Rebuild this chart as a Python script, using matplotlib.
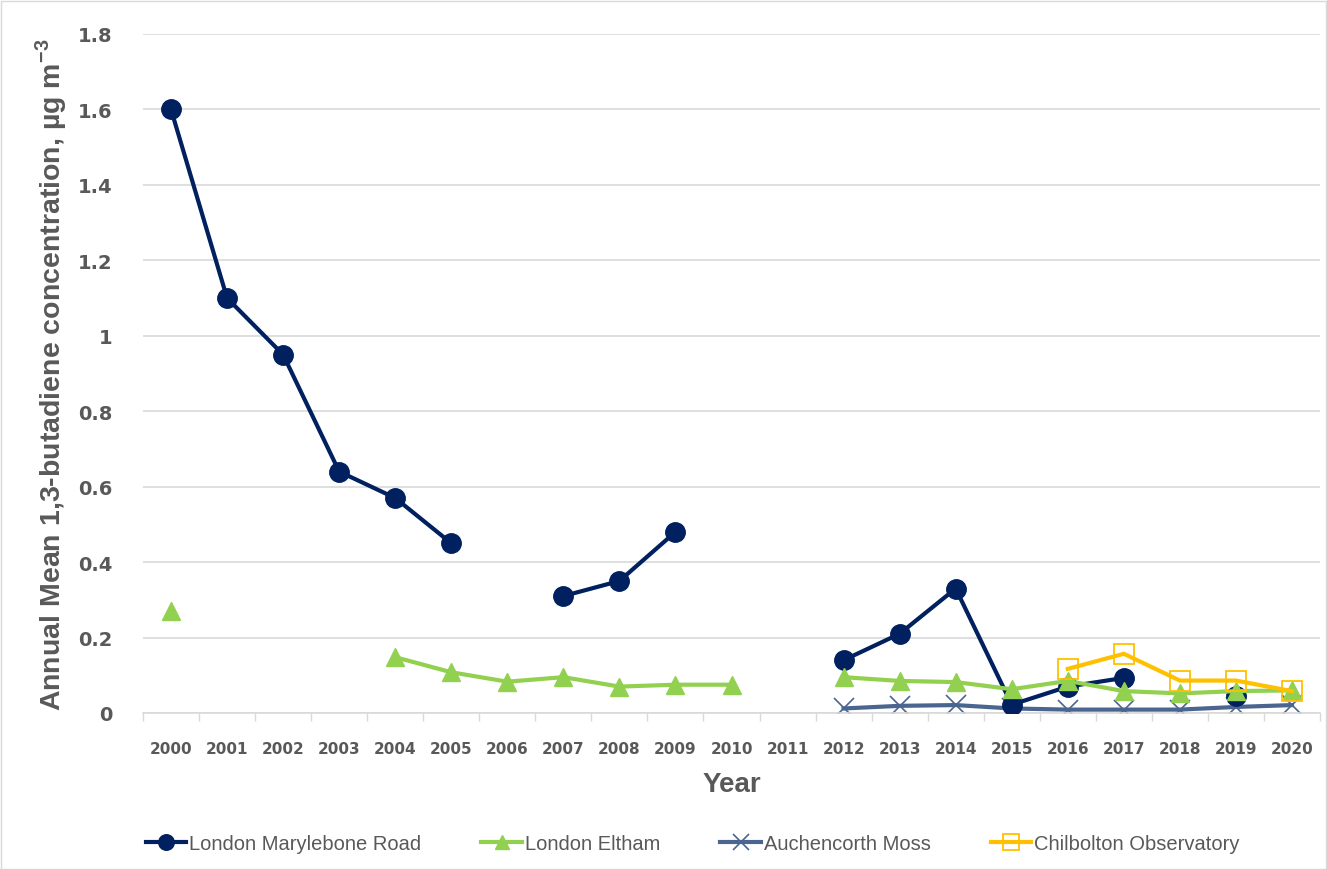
import numpy as np
import matplotlib
matplotlib.use('Agg')
import matplotlib.pyplot as plt
from matplotlib.patches import Rectangle

plt.rcParams['mathtext.fontset'] = 'custom'
plt.rcParams['mathtext.rm'] = 'Liberation Sans'
plt.rcParams['mathtext.bf'] = 'Liberation Sans:bold'

nan = np.nan
years = [str(y) for y in range(2000, 2021)]

marylebone = [1.6, 1.1, 0.95, 0.64, 0.57, 0.45, nan, 0.31, 0.35, 0.48, nan, nan,
              0.14, 0.21, 0.33, 0.022, 0.07, 0.093, nan, 0.045, nan]
eltham = [0.27, nan, nan, nan, 0.148, 0.108, 0.083, 0.095, 0.07, 0.075, 0.075, nan,
          0.095, 0.085, 0.082, 0.063, 0.085, 0.058, 0.052, 0.058, 0.06]
auchencorth = [nan] * 12 + [0.012, 0.019, 0.021, 0.012, 0.009, 0.009, 0.009, 0.016, 0.021]
chilbolton = [nan] * 16 + [0.117, 0.157, 0.086, 0.086, 0.058]

fig = plt.figure(figsize=(13.27, 8.7), dpi=100)
ax = fig.add_axes([143 / 1327, 1 - 714 / 870, (1320 - 143) / 1327, (714 - 35) / 870])

x = np.arange(len(years))
ax.plot(x, marylebone, color='#002060', lw=3, marker='o', ms=14,
        label='London Marylebone Road', zorder=3)
ax.plot(x, eltham, color='#92D050', lw=3, marker='^', ms=13,
        label='London Eltham', zorder=4)
ax.plot(x, auchencorth, color='#4A6590', lw=3, marker='x', ms=14, mew=1.2,
        label='Auchencorth Moss', zorder=2)
ax.plot(x, chilbolton, color='#FFC000', lw=3, marker='s', ms=14, mfc='none', mew=1.3,
        label='Chilbolton Observatory', zorder=5)

ax.set_xlim(-0.5, len(years) - 0.5)
ax.set_ylim(0, 1.8)
ax.set_yticks(np.arange(0, 1.81, 0.2))
ax.set_yticklabels(['0', '0.2', '0.4', '0.6', '0.8', '1', '1.2', '1.4', '1.6', '1.8'])
ax.set_xticks(x)
ax.set_xticklabels(years)
ax.set_xticks(np.arange(-0.5, len(years), 1), minor=True)
ax.tick_params(axis='x', which='major', length=0, pad=20, labelsize=11, labelcolor='#595959')
ax.tick_params(axis='x', which='minor', length=6, color='#D9D9D9', width=1)
ax.tick_params(axis='y', length=0, pad=22, labelsize=14, labelcolor='#595959')
for lab in ax.get_xticklabels() + ax.get_yticklabels():
    lab.set_fontweight('bold')

ax.grid(axis='y', color='#D9D9D9', lw=1.2)
ax.set_axisbelow(True)
for s in ['top', 'right', 'left']:
    ax.spines[s].set_visible(False)
ax.spines['bottom'].set_color('#D9D9D9')
ax.spines['bottom'].set_linewidth(1.2)

ax.set_xlabel('Year', fontsize=20, fontweight='bold', color='#595959', labelpad=11,
              family=['Liberation Sans', 'DejaVu Sans'])
ax.set_ylabel('Annual Mean 1,3-butadiene concentration, µg m$^{\\mathbf{-3}}$',
              fontsize=20.5, fontweight='bold', color='#595959', labelpad=6,
              family=['Liberation Sans', 'DejaVu Sans'])

leg = fig.legend(loc='center', bbox_to_anchor=(0.522, 1 - 845 / 870), ncol=4, frameon=False,
                 prop={'family': ['Liberation Sans', 'DejaVu Sans'], 'size': 14.5},
                 handlelength=2.0, handletextpad=0.15, columnspacing=3.0,
                 markerscale=0.8)
for t in leg.get_texts():
    t.set_color('#595959')

fig.patches.append(Rectangle((0.5 / 1327, 0.5 / 870), 1 - 2 / 1327, 1 - 2 / 870,
                             transform=fig.transFigure, fill=False, edgecolor='#D9D9D9', lw=1))

fig.savefig('out.png', dpi=100)
